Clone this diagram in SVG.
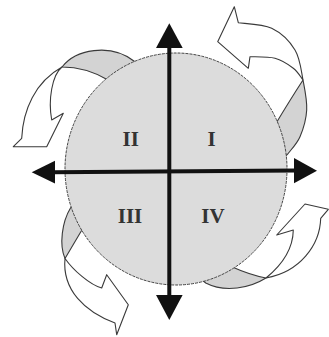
<svg xmlns="http://www.w3.org/2000/svg" width="329" height="337" viewBox="0 0 329 337">
  <style>
    .face { fill: #ffffff; stroke: #3a3a3a; stroke-width: 1.1; stroke-linejoin: round; }
    .under { fill: #d3d3d3; stroke: #3a3a3a; stroke-width: 1.1; stroke-linejoin: round; }
    .disc { fill: #dcdcdc; stroke: #444444; stroke-width: 1; stroke-dasharray: 3 1; }
    .axis { stroke: #111111; stroke-width: 4; fill: none; }
    .head { fill: #111111; }
    .lbl { font-family: "Liberation Serif", "Times New Roman", serif; font-weight: bold; font-size: 21px; fill: #333333; text-anchor: middle; }
  </style>
  <rect width="329" height="337" fill="#ffffff"/>

  <g id="cycle-arrows">
    <g id="arrow-top-right">
      <path class="under" d="M303,80 C304.95,90 307.2,100.55 306.7,110 C306.2,119.45 303.07,129.5 300,136.7 C296.93,143.9 290.25,150.5 288.3,153.3 L282,160 L275,125 Q290,100 303,80 Z"/>
      <path class="face" d="M238.3,22.7 C243.9,23.6 262.25,23.75 271.7,28.3 C281.15,32.85 289.8,41.4 295,50 C300.2,58.6 301.05,70 303,80 C301.4,78.05 297.97,71.9 293.3,68.3 C288.63,64.68 282.2,60.23 275,58.3 C267.8,56.37 254.17,56.97 250,56.7 L248.3,68.3 L217.7,41.7 L234.3,6.7 Z"/>
    </g>
    <g id="arrow-top-left">
      <path class="under" d="M62,67 C75,50 110,42 135,61.7 L130,72 L108,80 Q86,67 62,67 Z"/>
      <path class="face" d="M51.7,120 L63.3,113.3 L46.7,146.7 L13.3,146.7 L21.7,138.3 C23,110 35,82 62,67 C52,75 48,100 51.7,120 Z"/>
    </g>
    <g id="arrow-bottom-left">
      <path class="under" d="M74,205 L70.5,208 C62,222 59,245 65,258.5 L81,231.5 L84,228 Z"/>
      <path class="face" d="M65,258.5 C62,290 85,312 115,323 L116.7,334.7 L128.3,304.7 L106.7,274.7 L101.7,288 C90,285 73,270 65,258.5 Z"/>
    </g>
    <g id="arrow-bottom-right">
      <path class="under" d="M266,278 C250,288 225,293 205.7,283 L200,278 L230,266 Q250,275 266,278 Z"/>
      <path class="face" d="M320.7,218.3 C320,245 300,272 266,278 C282,265 293,248 293.3,230 L276.7,235 L305,204 L328.3,209.3 Z"/>
    </g>
  </g>

  <g id="disc">
    <ellipse class="disc" cx="176" cy="169" rx="111" ry="116"/>
  </g>

  <g id="connectors">
    <line class="axis" x1="169.3" y1="46" x2="169.3" y2="297"/>
    <line class="axis" x1="53" y1="172.2" x2="296" y2="170.6"/>
    <polygon class="head" points="169.3,23.3 182.7,48 156,48"/>
    <polygon class="head" points="169.3,320 156,295 182.6,295"/>
    <polygon class="head" points="31.7,172.3 55,160.7 55,183.4"/>
    <polygon class="head" points="317,170.7 294,158 294,183.2"/>
  </g>

  <g id="quadrant-II"><text class="lbl" x="130.7" y="145.5">II</text></g>
  <g id="quadrant-I"><text class="lbl" x="211.7" y="145.5">I</text></g>
  <g id="quadrant-III"><text class="lbl" x="130" y="223">III</text></g>
  <g id="quadrant-IV"><text class="lbl" x="213" y="223">IV</text></g>
</svg>
